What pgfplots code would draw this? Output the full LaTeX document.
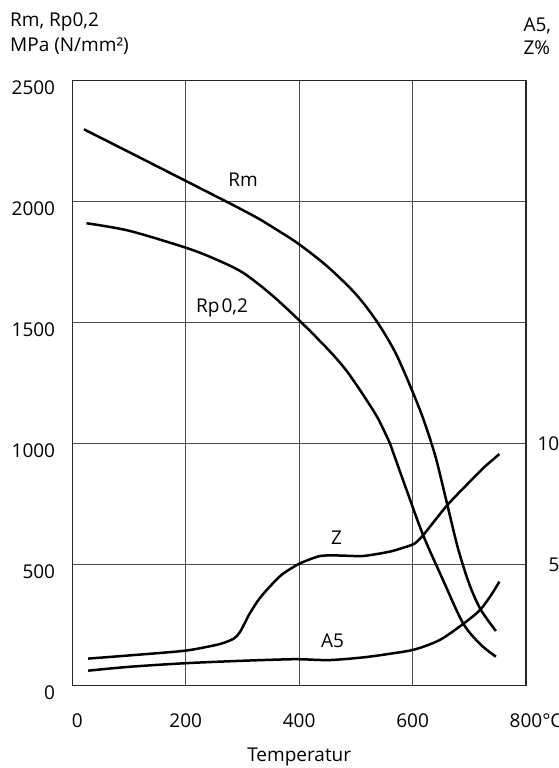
\documentclass[border=0pt]{standalone}
\usepackage{pgfplots}
\pgfplotsset{compat=1.18}
\usepackage{fontspec}
\setmainfont{Open Sans}
\begin{document}
\begin{tikzpicture}[font=\fontsize{19bp}{22bp}\selectfont]
\begin{axis}[
  scale only axis, width=453.7bp, height=605bp,
  xmin=0, xmax=800, ymin=0, ymax=2500,
  xtick={0,200,400,600,800},
  xticklabels={{\hspace*{10bp}0},200,400,600,{800\rlap{°C}}},
  ytick={0,500,1000,1500,2000,2500},
  grid=major,
  major grid style={line width=1.2bp, color=black!70},
  axis line style={line width=1.5bp, color=black!85},
  tick style={draw=none},
  xticklabel style={anchor=base, yshift=-41.5bp, inner sep=0pt},
  yticklabel style={anchor=base east, xshift=-17bp, yshift=-14bp, inner sep=0pt},
  /pgf/number format/assume math mode=true,
  /pgf/number format/1000 sep={},
  clip=false,
]
% Rm
\addplot[black, line width=2.5bp, smooth, tension=0.5] coordinates {
 (20.6,2299) (100,2205) (200,2086) (272,2000) (300,1966) (330,1928) (366,1876)
 (400,1824) (450,1732) (500,1618) (537,1505) (570,1375) (600,1215) (620,1095)
 (640,950) (660,760) (680,568) (700,420) (720,315) (747,226)};
% Rp0,2
\addplot[black, line width=2.5bp, smooth, tension=0.5] coordinates {
 (25,1911) (100,1880) (200,1810) (250,1765) (300,1708) (350,1618) (400,1510)
 (450,1392) (484,1300) (519,1180) (540,1100) (560,1002)};
\addplot[black, line width=2.5bp, smooth, tension=0.5] coordinates {
 (560,1002) (590,805) (619,620) (655,430) (689,258) (720,170) (747,120)};
% Z
\addplot[black, line width=2.5bp, smooth, tension=0.4] coordinates {
 (28,112) (100,125) (200,145) (260,172) (285,195) (296,223) (313,299) (330,360)
 (348,409) (370,460) (401,505) (437,536) (470,538) (513,536) (560,554) (590,575)
 (604,588) (619,623) (660,743) (695,829) (725,900) (753,957)};
% A5
\addplot[black, line width=2.5bp, smooth, tension=0.5] coordinates {
 (28,62) (100,78) (200,93) (300,103) (380,109) (407,109) (454,106) (513,117)
 (560,132) (604,150) (648,189) (689,255) (719,313) (740,380) (753,430)};
\node[anchor=base] at (axis cs:301,2062) {Rm};
\node[anchor=base] at (axis cs:264,1541) {Rp\hspace{2bp}0,2};
\node[anchor=base] at (axis cs:466,585) {Z};
\node[anchor=base] at (axis cs:459,157) {A5};
\end{axis}
\node[anchor=base west, inner sep=0pt] at (-62.3bp,658.7bp) {Rm, Rp0,2};
\node[anchor=base west, inner sep=0pt] at (-62.3bp,633.7bp) {MPa (N/mm²)};
\node[anchor=base west, inner sep=0pt] at (451bp,654bp) {A5,};
\node[anchor=base west, inner sep=0pt] at (451bp,630.7bp) {Z\%};
\node[anchor=west, inner sep=0pt] at (465bp,242.2bp) {10};
\node[anchor=west, inner sep=0pt] at (476bp,121.2bp) {5};
\node[anchor=base, inner sep=0pt] at (226.9bp,-76bp) {Temperatur};
\pgfresetboundingbox
\useasboundingbox (-72.3bp,-82.3bp) rectangle (486.7bp,685.7bp);
\end{tikzpicture}
\end{document}
